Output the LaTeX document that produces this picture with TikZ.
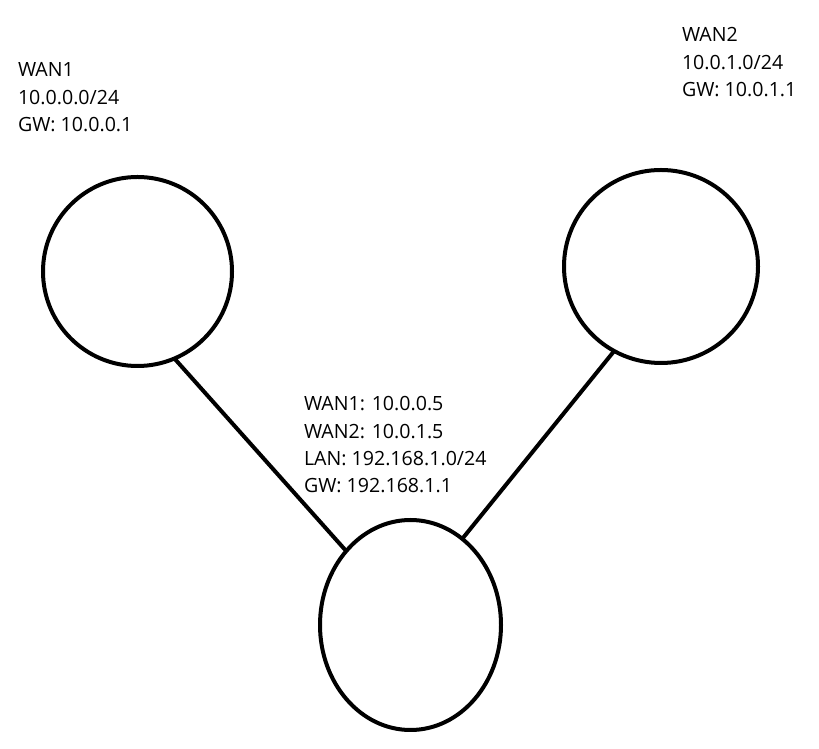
\documentclass[tikz,border=0pt]{standalone}
\usepackage{fontspec}
\setmainfont{Open Sans}
\usetikzlibrary{shapes.geometric}
\begin{document}
\begin{tikzpicture}[x=1pt,y=1pt,
  router/.style={draw=black, line width=4pt, ellipse, inner sep=0pt, outer sep=0pt, minimum width=#1},
  link/.style={draw=black, line width=4pt},
  lbl/.style={align=left, anchor=north west, inner sep=0pt, outer sep=0pt,
    font=\fontsize{19.6pt}{27.3pt}\selectfont}]
\useasboundingbox (0,0) rectangle (819,749);
% routers (y flipped: 749 - y)
\node[router=189pt, minimum height=189pt] (wan1) at (137.5,477.5) {};
\node[router=194pt, minimum height=193pt] (wan2) at (661,482.5) {};
\node[router=181pt, minimum height=210pt] (gw) at (410.5,124) {};
% links
\draw[link] (wan1.-67.7) -- (gw.131.9);
\draw[link] (wan2.241.1) -- (gw.59.2);
% labels
\node[lbl] (t1) at (18,686.3) {WAN1\\10.0.0.0/24\\GW: 10.0.0.1};
\node[lbl] (t2) at (682,721.3) {WAN2\\10.0.1.0/24\\GW: 10.0.1.1};
\node[lbl] (t3) at (304,352.3) {WAN1: 10.0.0.5\\WAN2: 10.0.1.5\\LAN: 192.168.1.0/24\\GW: 192.168.1.1};
\end{tikzpicture}
\end{document}
